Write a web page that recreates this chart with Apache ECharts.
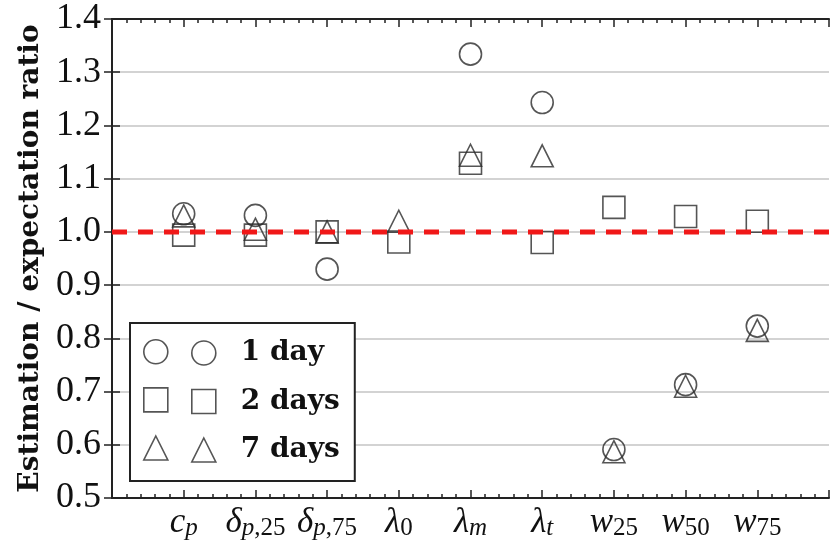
<!DOCTYPE html>
<html><head><meta charset="utf-8">
<script src="https://cdn.jsdelivr.net/npm/echarts@6/dist/echarts.min.js"></script>
<style>html,body{margin:0;padding:0;background:#fff}#c{width:832px;height:545px}</style>
</head><body><div id="c"></div>
<script>
// ---- data ----
const tickMain = ['c', 'δ', 'δ', 'λ', 'λ', 'λ', 'w', 'w', 'w'];
const tickSubItalic = ['p', 'p', 'p', '', 'm', 't', '', '', ''];
const tickSubRoman = ['', ',25', ',75', '0', '', '', '25', '50', '75'];
const positions = [1, 2, 3, 4, 5, 6, 7, 8, 9];
const oneDay = [1.034, 1.031, 0.930, null, 1.334, 1.243, 0.591, 0.713, 0.823];
const twoDays = [0.994, 0.994, 1.000, 0.981, 1.129, 0.980, 1.046, 1.029, 1.020];
const sevenDays = [1.030, 1.005, 1.000, 1.020, 1.144, 1.143, 0.587, 0.710, 0.815];
const seriesNames = ['1 day', '2 days', '7 days'];
const seriesSymbols = ['circle', 'rect', 'triangle'];
const refValue = 1.0;
const yMin = 0.5, yMax = 1.4, yStep = 0.1;
const xMin = 0, xMax = 10;

function pts(vals) {
  return vals.map((v, i) => v == null ? null : [positions[i], v]).filter(Boolean);
}
function xLabel(value) {
  const i = positions.indexOf(Math.round(value));
  if (i < 0) return '';
  let s = '{m|' + tickMain[i] + '}';
  if (tickSubItalic[i]) s += '{s|' + tickSubItalic[i] + '}';
  if (tickSubRoman[i]) s += '{n|' + tickSubRoman[i] + '}';
  return s;
}

const frame = { show: true, lineStyle: { color: '#222', width: 2 } };
const markStyle = { color: 'rgba(0,0,0,0)', borderColor: '#2a2a2a', borderWidth: 1.6 };

const chart = echarts.init(document.getElementById('c'), null, { renderer: 'canvas' });
chart.setOption({
  backgroundColor: '#fff',
  animation: false,
  grid: { left: 112, right: 2, top: 19, bottom: 47 },
  xAxis: [{
    type: 'value', min: xMin, max: xMax, interval: 1, position: 'bottom',
    axisLine: frame,
    axisTick: { show: true, inside: true, length: 8, lineStyle: { color: '#222', width: 1.5 } },
    minorTick: { show: true, splitNumber: 5, length: 4, lineStyle: { color: '#222', width: 1.5 } },
    splitLine: { show: false },
    axisLabel: {
      margin: 7, formatter: xLabel, color: '#111',
      rich: {
        m: { fontFamily: 'Liberation Serif', fontStyle: 'italic', fontSize: 35, lineHeight: 36, color: '#111' },
        s: { fontFamily: 'Liberation Serif', fontStyle: 'italic', fontSize: 25, lineHeight: 16, verticalAlign: 'bottom', color: '#111' },
        n: { fontFamily: 'Liberation Serif', fontSize: 25, lineHeight: 16, verticalAlign: 'bottom', color: '#111' }
      }
    }
  }, {
    type: 'value', min: xMin, max: xMax, interval: 1, position: 'top',
    axisLine: frame,
    axisTick: { show: true, inside: true, length: 8, lineStyle: { color: '#222', width: 1.5 } },
    minorTick: { show: true, splitNumber: 5, length: 4, lineStyle: { color: '#222', width: 1.5 } },
    splitLine: { show: false }, axisLabel: { show: false }
  }],
  yAxis: [{
    type: 'value', min: yMin, max: yMax, interval: yStep, position: 'left',
    name: 'Estimation / expectation ratio', nameLocation: 'middle', nameGap: 66,
    nameTextStyle: { fontFamily: 'DejaVu Serif', fontWeight: 'bold', fontSize: 28, color: '#111' },
    axisLine: frame,
    axisTick: { show: true, inside: true, length: 8, lineStyle: { color: '#222', width: 1.5 } },
    splitLine: { show: true, lineStyle: { color: '#c4c4c4', width: 1.5 } },
    axisLabel: { margin: 11, fontFamily: 'Liberation Serif', fontSize: 36, color: '#111',
      formatter: v => v.toFixed(1) }
  }, {
    type: 'value', min: yMin, max: yMax, interval: yStep, position: 'right',
    axisLine: frame,
    axisTick: { show: true, inside: true, length: 8, lineStyle: { color: '#222', width: 1.5 } },
    splitLine: { show: false }, axisLabel: { show: false }
  }],
  legend: [{
    orient: 'vertical', left: 130, top: 323, padding: [16, 15, 17, 61],
    itemWidth: 24, itemHeight: 24, itemGap: 20.5, z: 4,
    backgroundColor: '#fff', borderColor: '#222', borderWidth: 2, borderRadius: 0,
    data: seriesNames,
    itemStyle: markStyle,
    textStyle: { fontFamily: 'DejaVu Serif', fontWeight: 'bold', fontSize: 28, lineHeight: 24, color: '#111', padding: [0, 0, 0, 20] },
    selectedMode: false
  }, {
    orient: 'vertical', left: 143, top: 339, padding: 0,
    itemWidth: 24, itemHeight: 24, itemGap: 22.5, z: 5,
    data: seriesNames, formatter: () => '',
    itemStyle: markStyle,
    textStyle: { fontSize: 12, lineHeight: 24 },
    selectedMode: false
  }],
  series: [
    { name: seriesNames[0], type: 'scatter', symbol: seriesSymbols[0], symbolSize: 22, data: pts(oneDay), itemStyle: markStyle, z: 2 },
    { name: seriesNames[1], type: 'scatter', symbol: seriesSymbols[1], symbolSize: 22, data: pts(twoDays), itemStyle: markStyle, z: 2 },
    { name: seriesNames[2], type: 'scatter', symbol: seriesSymbols[2], symbolSize: 22, data: pts(sevenDays), itemStyle: markStyle, z: 2 },
    { name: 'ref', type: 'line', data: [[xMin, refValue], [xMax, refValue]], showSymbol: false, symbol: 'none',
      lineStyle: { color: '#f01818', width: 5, type: [15, 11] }, z: 6, silent: true }
  ]
});
</script></body></html>
